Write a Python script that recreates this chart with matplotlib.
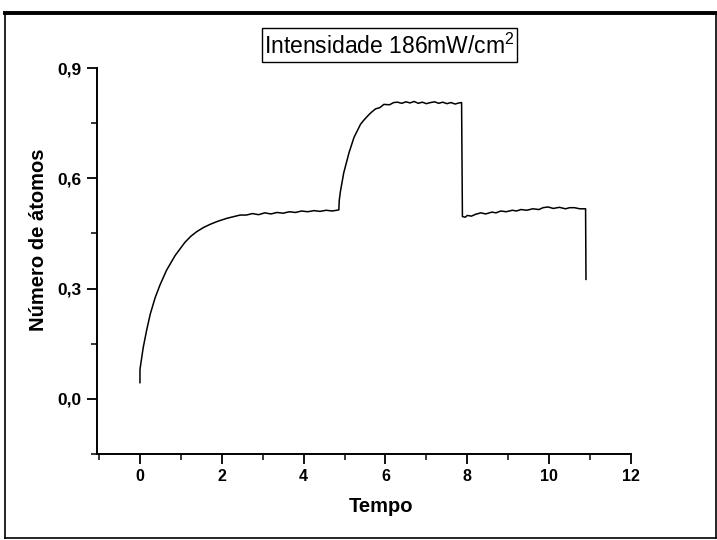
import matplotlib
matplotlib.use("Agg")
import matplotlib.pyplot as plt
from matplotlib.lines import Line2D
from matplotlib.patches import Rectangle
from matplotlib.ticker import MultipleLocator, FuncFormatter

plt.rcParams['font.family'] = ['Liberation Sans', 'DejaVu Sans']
plt.rcParams['mathtext.fontset'] = 'custom'
plt.rcParams['mathtext.rm'] = 'Liberation Sans'
plt.rcParams['mathtext.it'] = 'Liberation Sans'
plt.rcParams['mathtext.bf'] = 'Liberation Sans:bold'

# ---- data ----
tempo = [0.0, 0.0, 0.02, 0.08, 0.16, 0.25, 0.37, 0.49, 0.65, 0.86, 1.10, 1.25, 1.39,
         1.55, 1.72, 1.90, 2.12, 2.30, 2.45,
         2.6, 2.75, 2.9, 3.05, 3.2, 3.35, 3.5, 3.65, 3.8, 3.95, 4.1, 4.25, 4.4, 4.55,
         4.7, 4.86,
         4.87, 4.90, 4.98, 5.11, 5.23, 5.39, 5.47, 5.56, 5.66, 5.76, 5.86, 5.96, 6.1,
         6.2, 6.29,
         6.4, 6.5, 6.6, 6.7, 6.8, 6.9, 7.0, 7.1, 7.2, 7.3, 7.4, 7.5, 7.6, 7.7, 7.8, 7.86,
         7.87, 7.88,
         7.95, 8.0, 8.1, 8.2, 8.33, 8.45, 8.6, 8.7, 8.82, 8.95, 9.1, 9.2, 9.31, 9.45,
         9.6, 9.75, 9.85, 9.97, 10.1, 10.25, 10.4, 10.5, 10.62, 10.75, 10.89, 10.9]
atomos = [0.044, 0.080, 0.095, 0.140, 0.185, 0.230, 0.275, 0.310, 0.350, 0.390, 0.426,
          0.443, 0.455, 0.466, 0.475, 0.483, 0.491, 0.496, 0.500,
          0.500, 0.504, 0.501, 0.506, 0.503, 0.507, 0.505, 0.509, 0.507, 0.511, 0.509,
          0.512, 0.510, 0.513, 0.511, 0.514,
          0.540, 0.565, 0.615, 0.670, 0.711, 0.747, 0.758, 0.769, 0.780, 0.789, 0.792,
          0.801, 0.800, 0.806, 0.807,
          0.804, 0.808, 0.805, 0.809, 0.804, 0.807, 0.803, 0.806, 0.808, 0.804, 0.807,
          0.803, 0.806, 0.802, 0.805, 0.806,
          0.650, 0.496,
          0.494, 0.499, 0.497, 0.502, 0.506, 0.503, 0.508, 0.506, 0.511, 0.509, 0.513,
          0.511, 0.515, 0.513, 0.517, 0.515, 0.520, 0.522, 0.518, 0.521, 0.517, 0.520,
          0.520, 0.517, 0.517, 0.325]

x_ticks = [0, 2, 4, 6, 8, 10, 12]
y_ticks = [0.0, 0.3, 0.6, 0.9]
titulo = "Intensidade 186mW/cm$^2$"
xlabel = "Tempo"
ylabel = "Número de átomos"

# ---- figure ----
fig = plt.figure(figsize=(7.17, 5.40), dpi=100)
ax = fig.add_axes([97/717, 1-454/540, (631-97)/717, (454-68)/540])

ax.plot(tempo, atomos, color='black', lw=1.1)

ax.set_xlim(-1.05, 12)
ax.set_ylim(-0.15, 0.9)
ax.set_xticks(x_ticks)
ax.set_yticks(y_ticks)
ax.xaxis.set_minor_locator(MultipleLocator(1))
ax.yaxis.set_minor_locator(MultipleLocator(0.15))
ax.yaxis.set_major_formatter(FuncFormatter(lambda v, p: f"{v:.1f}".replace('.', ',')))

for s in ['top', 'right']:
    ax.spines[s].set_visible(False)
for s in ['left', 'bottom']:
    ax.spines[s].set_linewidth(1.4)

ax.tick_params(which='major', direction='out', length=7, width=1.3, pad=4)
ax.tick_params(which='minor', direction='out', length=4, width=1.1)
ax.tick_params(axis='x', labelsize=11.5)
ax.tick_params(axis='y', labelsize=12.5)
for lab in ax.get_xticklabels() + ax.get_yticklabels():
    lab.set_fontweight('bold')

ax.set_xlabel(xlabel, fontsize=14.5, fontweight='bold')
ax.set_ylabel(ylabel, fontsize=14.5, fontweight='bold')
ax.xaxis.set_label_coords((381-97)/534, (454-497)/386)
ax.yaxis.set_label_coords((48-97)/534, (454-240)/386)

# title box
fig.patches.append(Rectangle((262/717, 1-62/540), (517-262)/717, (62-28)/540,
                             transform=fig.transFigure, fill=False, lw=1.0,
                             edgecolor='black'))
fig.text(264/717, 1-46/540, titulo, ha='left', va='center', fontsize=16.5)

# outer frame
fig.lines.append(Line2D([5/717, 716/717], [1-13/540, 1-13/540], transform=fig.transFigure,
                        color='black', lw=2.8))
fig.lines.append(Line2D([5/717, 5/717], [1-13/540, 1-538/540], transform=fig.transFigure,
                        color='black', lw=1.2))
fig.lines.append(Line2D([716/717, 716/717], [1-13/540, 1-538/540], transform=fig.transFigure,
                        color='black', lw=1.2))
fig.lines.append(Line2D([5/717, 716/717], [1-538/540, 1-538/540], transform=fig.transFigure,
                        color='black', lw=1.2))

fig.savefig("out.png", dpi=100)
